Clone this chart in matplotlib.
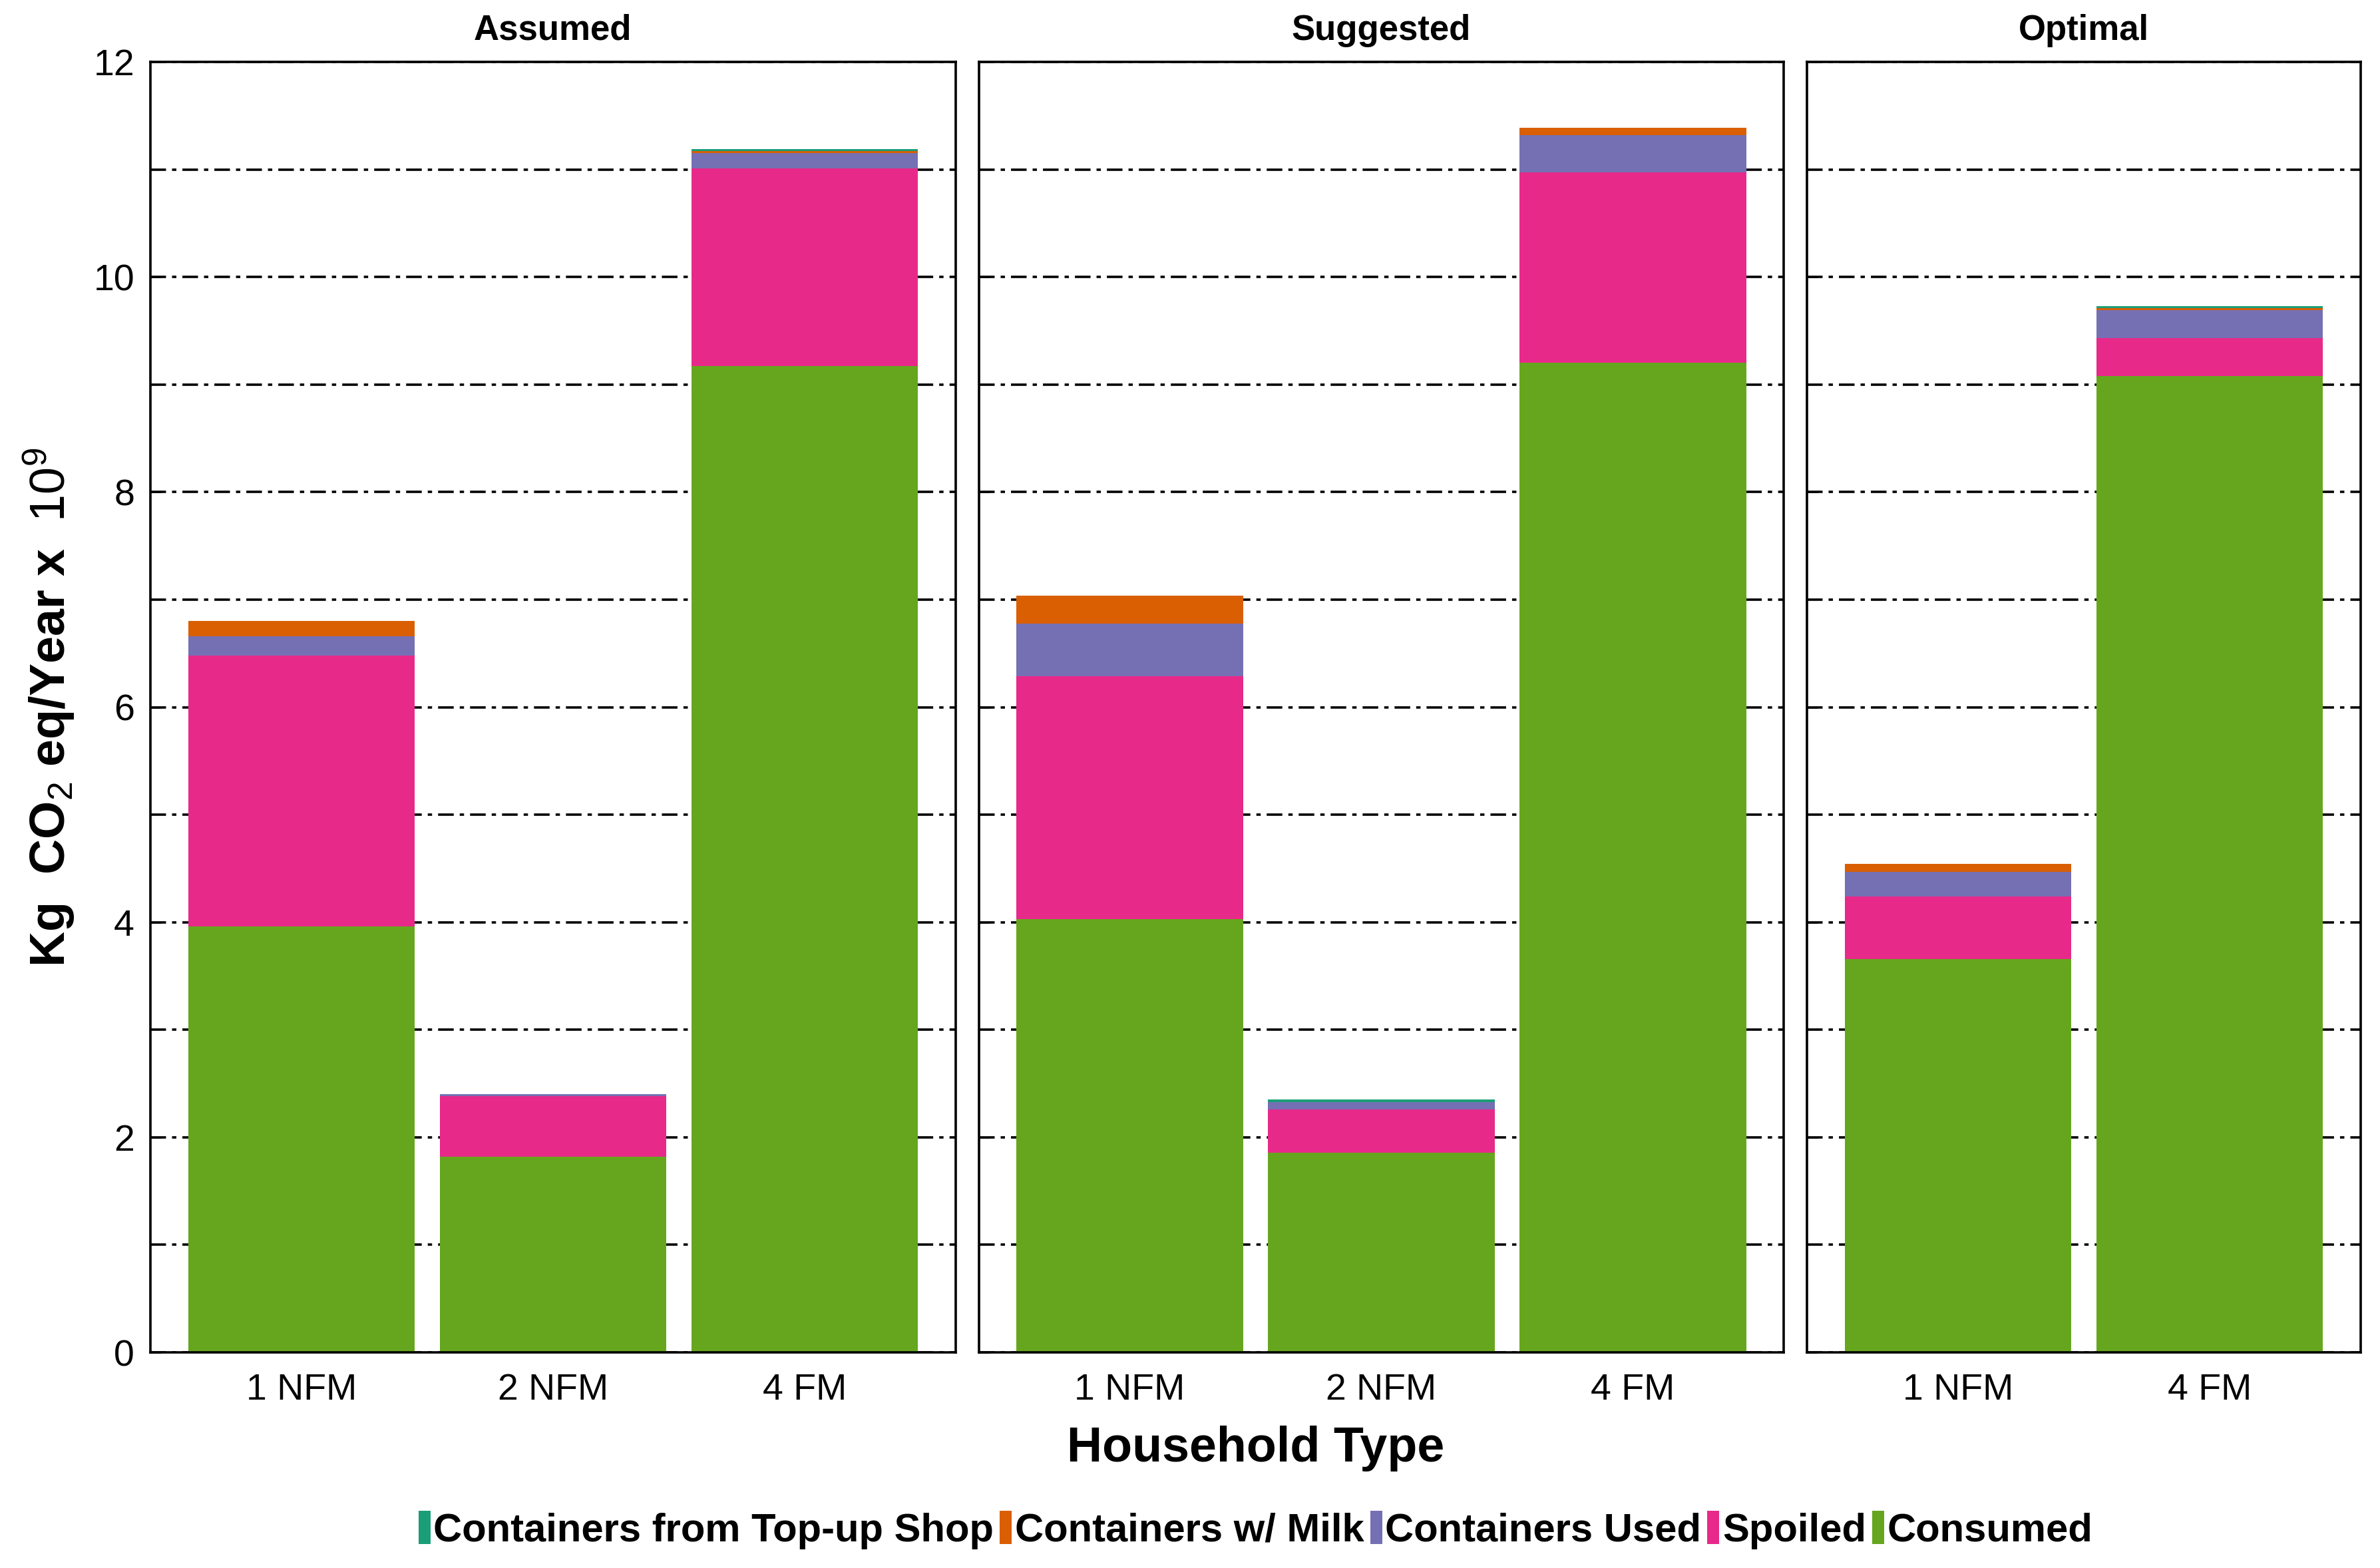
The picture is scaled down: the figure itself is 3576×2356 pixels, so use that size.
import numpy as np
import matplotlib
matplotlib.use('Agg')
import matplotlib.pyplot as plt
from matplotlib.patches import Patch
from matplotlib.ticker import MultipleLocator

plt.rcParams['font.family'] = ['Liberation Sans', 'DejaVu Sans']
plt.rcParams['mathtext.fontset'] = 'custom'
plt.rcParams['mathtext.rm'] = 'Liberation Sans'
plt.rcParams['mathtext.it'] = 'Liberation Sans:italic'
plt.rcParams['mathtext.bf'] = 'Liberation Sans:bold'

# facets and household types
scenarios = ['Assumed', 'Suggested', 'Optimal']
households_assumed = ['1 NFM', '2 NFM', '4 FM']
households_suggested = ['1 NFM', '2 NFM', '4 FM']
households_optimal = ['1 NFM', '4 FM']

# stack components, bottom to top
components = ['Consumed', 'Spoiled', 'Containers Used', 'Containers w/ Milk',
              'Containers from Top-up Shop']
component_colors = ['#66A61E', '#E7298A', '#7570B3', '#D95F02', '#1B9E77']

# Kg CO2 eq/Year x 10^9
assumed_consumed = [3.96, 1.82, 9.17]
assumed_spoiled = [2.52, 0.56, 1.84]
assumed_used = [0.18, 0.02, 0.14]
assumed_milk = [0.14, 0.0, 0.02]
assumed_topup = [0.0, 0.0, 0.02]

suggested_consumed = [4.03, 1.86, 9.20]
suggested_spoiled = [2.26, 0.40, 1.77]
suggested_used = [0.49, 0.07, 0.35]
suggested_milk = [0.26, 0.0, 0.07]
suggested_topup = [0.0, 0.02, 0.0]

optimal_consumed = [3.66, 9.08]
optimal_spoiled = [0.58, 0.35]
optimal_used = [0.23, 0.26]
optimal_milk = [0.07, 0.02]
optimal_topup = [0.0, 0.02]

panels = [
    (households_assumed, [assumed_consumed, assumed_spoiled, assumed_used,
                          assumed_milk, assumed_topup]),
    (households_suggested, [suggested_consumed, suggested_spoiled, suggested_used,
                            suggested_milk, suggested_topup]),
    (households_optimal, [optimal_consumed, optimal_spoiled, optimal_used,
                          optimal_milk, optimal_topup]),
]

fig = plt.figure(figsize=(17.88, 11.78), dpi=200)
left, right, top, bottom = 0.0632, 0.9919, 0.9605, 0.1375
gs = fig.add_gridspec(1, 3, width_ratios=[3.2, 3.2, 2.2], left=left, right=right,
                      top=top, bottom=bottom, wspace=0.0323)

grid_style = (0, (6.5, 2.5, 1.8, 2.5))

axes = []
for i, (name, (cats, series)) in enumerate(zip(scenarios, panels)):
    ax = fig.add_subplot(gs[0, i])
    axes.append(ax)
    x = np.arange(1, len(cats) + 1)
    base = np.zeros(len(cats))
    for vals, col in zip(series, component_colors):
        ax.bar(x, vals, 0.9, bottom=base, color=col, linewidth=0, zorder=2)
        base = base + np.array(vals)

    ax.set_xlim(0.4, len(cats) + 0.6)
    ax.set_ylim(0, 12)
    ax.set_xticks(x)
    ax.set_xticklabels(cats)
    ax.yaxis.set_major_locator(MultipleLocator(2))
    ax.yaxis.set_minor_locator(MultipleLocator(1))
    ax.set_axisbelow(True)
    ax.grid(True, which='both', axis='y', color='black', linewidth=1.3,
            linestyle=grid_style)
    ax.tick_params(axis='y', which='major', direction='in', length=5.6, width=0.9,
                   labelsize=20, pad=8.6)
    ax.tick_params(axis='y', which='minor', length=0)
    ax.tick_params(axis='x', which='major', direction='in', length=5.6, width=0.9,
                   labelsize=20, pad=11)
    if i > 0:
        ax.tick_params(axis='y', labelleft=False)
    for sp in ax.spines.values():
        sp.set_linewidth(1.3)
    ax.set_title(name, fontsize=19, fontweight='bold', pad=12)

axes[0].set_ylabel(r'Kg  CO$_2$ eq/Year x  $10^9$', fontsize=26.5,
                   fontweight='bold', labelpad=9)

x_center = 0.5 * (left + right)
fig.text(x_center, 1 - 2196 / 2356, 'Household Type', ha='center', va='baseline',
         fontsize=26.5, fontweight='bold')

handles = [Patch(facecolor=c, edgecolor='none') for c in component_colors[::-1]]
fig.legend(handles, components[::-1], loc='center',
           bbox_to_anchor=(x_center, 1 - 2299 / 2356), ncol=5, frameon=False,
           prop={'size': 21.5, 'weight': 'bold'}, handlelength=0.3,
           handleheight=0.92, handletextpad=0.08, columnspacing=0.15, borderpad=0)

fig.savefig('out.png', dpi=200)
